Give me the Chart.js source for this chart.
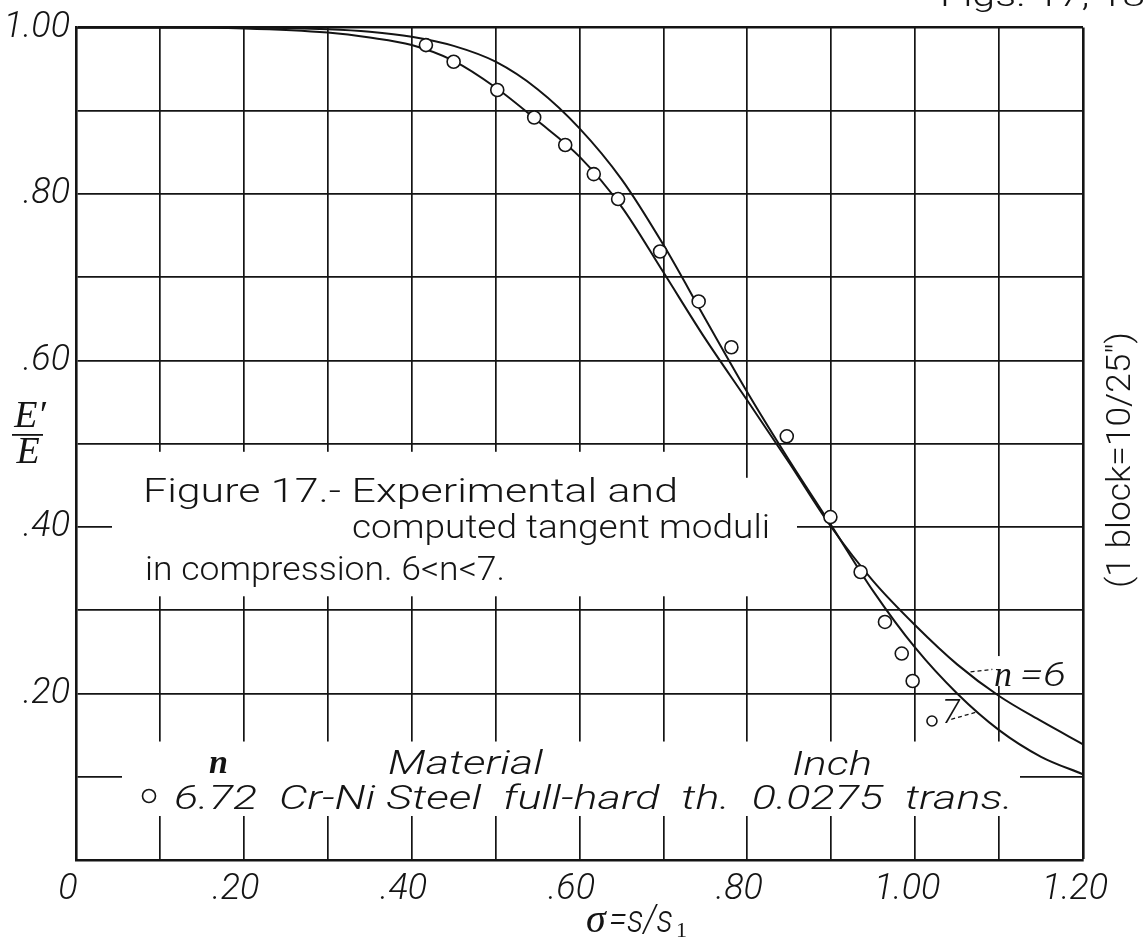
<!DOCTYPE html>
<html>
<head>
<meta charset="utf-8">
<script src="https://cdn.jsdelivr.net/npm/chart.js@4.4.1/dist/chart.umd.min.js"></script>
<style>
  html, body { margin: 0; padding: 0; background: #fff; }
</style>
</head>
<body>
<canvas id="grafico" width="1143" height="941"></canvas>
<script>
// curvas calculadas (n = 6 e n = 7)
const curvaN6X = [0, 0.10, 0.20, 0.30, 0.35, 0.40, 0.45, 0.50, 0.55, 0.60, 0.65, 0.70, 0.75, 0.80, 0.85, 0.90, 0.95, 1.00, 1.05, 1.10, 1.15, 1.20]
const curvaN6Y = [1.0, 1.0, 0.999, 0.994, 0.988, 0.979, 0.960, 0.928, 0.888, 0.845, 0.785, 0.706, 0.626, 0.552, 0.477, 0.400, 0.335, 0.282, 0.235, 0.197, 0.167, 0.139]

const curvaN7X = [0, 0.10, 0.20, 0.30, 0.35, 0.40, 0.45, 0.50, 0.55, 0.60, 0.65, 0.70, 0.75, 0.80, 0.85, 0.90, 0.95, 1.00, 1.05, 1.10, 1.15, 1.20]
const curvaN7Y = [1.0, 1.0, 1.0, 0.998, 0.995, 0.989, 0.978, 0.959, 0.926, 0.879, 0.818, 0.739, 0.650, 0.562, 0.480, 0.402, 0.323, 0.255, 0.200, 0.156, 0.124, 0.103]

// pontos experimentais (n = 6.72)
const ensaioX = [0.417, 0.450, 0.502, 0.546, 0.583, 0.617, 0.646, 0.696, 0.742, 0.781, 0.847, 0.899, 0.935, 0.964, 0.984, 0.997, 1.020]
const ensaioY = [0.979, 0.959, 0.925, 0.892, 0.859, 0.824, 0.794, 0.731, 0.671, 0.616, 0.509, 0.412, 0.346, 0.286, 0.248, 0.215, 0.167]

const ticksX = [0, 0.2, 0.4, 0.6, 0.8, 1.0, 1.2]
const rotulosX = ['0', '.20', '.40', '.60', '.80', '1.00', '1.20']
const ticksY = [0.2, 0.4, 0.6, 0.8, 1.0]
const rotulosY = ['.20', '.40', '.60', '.80', '1.00']

const pares = (xs, ys) => xs.map((x, i) => ({ x: x, y: ys[i] }))

const tinta = '#141414'
const fonteFina = 'Roboto, "DejaVu Sans", sans-serif'
const fonteSerif = '"Liberation Serif", "DejaVu Serif", serif'

const rotulo = (ticks, rotulos) => (valor) => {
    const i = ticks.findIndex(t => Math.abs(t - valor) < 1e-6)
    return i >= 0 ? rotulos[i] : ''
}

// escreve um texto esticado ate uma largura dada
function escreve(ctx, texto, x, y, largura, fonte) {
    ctx.font = fonte
    const w = ctx.measureText(texto).width
    ctx.save()
    ctx.translate(x, y)
    if (largura) ctx.scale(largura / w, 1)
    ctx.fillText(texto, 0, 0)
    ctx.restore()
}

const anotacoes = {
    id: 'anotacoes',
    beforeDatasetsDraw(chart) {
        const ctx = chart.ctx
        const sx = chart.scales.x
        const sy = chart.scales.y
        const px = v => sx.getPixelForValue(v)
        const py = v => sy.getPixelForValue(v)

        // recortes brancos na grade, atras dos textos
        ctx.save()
        ctx.fillStyle = '#fff'
        const topo1 = py(0.5) + 8, fundo1 = py(0.3) - 14
        ctx.fillRect(112, topo1, 720 - 112, fundo1 - topo1)
        ctx.fillRect(720, topo1 + 26, 797 - 720, fundo1 - topo1 - 26)
        const topo2 = py(0.2) + 48, fundo2 = py(0) - 44
        ctx.fillRect(122, topo2, 1020 - 122, fundo2 - topo2)
        ctx.fillRect(px(1.093), py(0.245), 76, 30)
        ctx.restore()

        ctx.save()
        ctx.fillStyle = tinta
        ctx.textBaseline = 'alphabetic'
        ctx.textAlign = 'left'

        // titulo da figura
        const fTexto = '300 34px ' + fonteFina
        escreve(ctx, 'Figure 17.- Experimental and', 143, 502, 535, fTexto)
        escreve(ctx, 'computed tangent moduli', 352, 538, 418, fTexto)
        escreve(ctx, 'in compression. 6<n<7.', 145, 580, 360, fTexto)

        // legenda
        const fIt = 'italic 300 33px ' + fonteFina
        escreve(ctx, 'n', 209, 773, 0, 'italic bold 34px ' + fonteSerif)
        escreve(ctx, 'Material', 388, 774, 155, fIt)
        escreve(ctx, 'Inch', 792, 775, 80, fIt)
        escreve(ctx, '6.72  Cr-Ni Steel  full-hard  th.  0.0275  trans.', 174, 809, 839, fIt)
        ctx.beginPath()
        ctx.lineWidth = 1.6
        ctx.strokeStyle = tinta
        ctx.arc(149, 796, 6.5, 0, Math.PI * 2)
        ctx.stroke()

        // rotulos das curvas
        escreve(ctx, 'n', px(1.094), py(0.209), 0, 'italic 36px ' + fonteSerif)
        escreve(ctx, '=6', px(1.094) + 26, py(0.209), 46, fIt)
        escreve(ctx, '7', px(1.032), py(0.164), 0, fIt)
        ctx.setLineDash([4, 3])
        ctx.lineWidth = 1.3
        ctx.beginPath()
        ctx.moveTo(px(1.066), py(0.226))
        ctx.lineTo(px(1.092), py(0.229))
        ctx.moveTo(px(1.043), py(0.169))
        ctx.lineTo(px(1.074), py(0.178))
        ctx.stroke()
        ctx.setLineDash([])

        // titulo do eixo y: E'/E
        ctx.textAlign = 'center'
        ctx.font = 'italic 38px ' + fonteSerif
        ctx.fillText('E\u2032', 30, 427)
        ctx.fillRect(12, 434, 31, 1.8)
        ctx.fillText('E', 28, 463)

        // titulo do eixo x: sigma = s/s1
        ctx.textAlign = 'left'
        escreve(ctx, '\u03c3', 586, 932, 0, 'italic 40px ' + fonteSerif)
        escreve(ctx, '=s/s', 609, 932, 64, 'italic 300 38px ' + fonteFina)
        escreve(ctx, '1', 676, 937, 0, '22px ' + fonteSerif)

        // escala do desenho, girada
        ctx.save()
        ctx.translate(1130, 460)
        ctx.rotate(-Math.PI / 2)
        ctx.textAlign = 'left'
        escreve(ctx, '(1 block=10/25")', -128, 0, 256, '300 34px ' + fonteFina)
        ctx.restore()

        // cabecalho cortado no topo
        escreve(ctx, 'Figs. 17, 18', 940, 6, 205, '300 32px ' + fonteFina)
        ctx.restore()
    }
}

const grafico1 = document.getElementById('grafico')

let grafico = new Chart(grafico1, {
    type: 'line',
    data: {
        datasets: [
            {
                label: 'n = 6.72',
                data: pares(ensaioX, ensaioY),
                showLine: false,
                pointStyle: 'circle',
                pointRadius: c => c.dataIndex === ensaioX.length - 1 ? 5 : 6.5,
                pointBorderWidth: 1.6,
                pointBorderColor: tinta,
                pointBackgroundColor: '#fff'
            },
            {
                label: 'n = 6',
                data: pares(curvaN6X, curvaN6Y),
                borderColor: tinta,
                borderWidth: 2,
                pointRadius: 0,
                cubicInterpolationMode: 'monotone',
                fill: false
            },
            {
                label: 'n = 7',
                data: pares(curvaN7X, curvaN7Y),
                borderColor: tinta,
                borderWidth: 2,
                pointRadius: 0,
                cubicInterpolationMode: 'monotone',
                fill: false
            }
        ]
    },
    options: {
        responsive: false,
        animation: false,
        layout: { padding: { top: 27, right: 60, left: 0, bottom: 0 } },
        plugins: {
            legend: { display: false },
            tooltip: { enabled: false }
        },
        scales: {
            x: {
                type: 'linear',
                min: 0,
                max: 1.2,
                afterFit: s => { s.height = 81 },
                border: { display: true, color: tinta, width: 2.6 },
                grid: {
                    color: tinta,
                    lineWidth: c => (c.tick && Math.abs(c.tick.value - 1.2) < 1e-6) ? 2.6 : 1.7,
                    drawTicks: false
                },
                ticks: {
                    stepSize: 0.1,
                    autoSkip: false,
                    maxRotation: 0,
                    padding: 8,
                    labelOffset: -8,
                    color: tinta,
                    font: { family: fonteFina, size: 36, style: 'italic', weight: 300 },
                    callback: rotulo(ticksX, rotulosX)
                }
            },
            y: {
                type: 'linear',
                min: 0,
                max: 1.0,
                afterFit: s => { s.width = 76 },
                border: { display: true, color: tinta, width: 2.6 },
                grid: {
                    color: tinta,
                    lineWidth: c => (c.tick && Math.abs(c.tick.value - 1.0) < 1e-6) ? 2.6 : 1.7,
                    drawTicks: false
                },
                ticks: {
                    stepSize: 0.1,
                    autoSkip: false,
                    padding: 6,
                    color: tinta,
                    font: { family: fonteFina, size: 36, style: 'italic', weight: 300 },
                    callback: rotulo(ticksY, rotulosY)
                }
            }
        }
    },
    plugins: [anotacoes]
});
</script>
</body>
</html>
